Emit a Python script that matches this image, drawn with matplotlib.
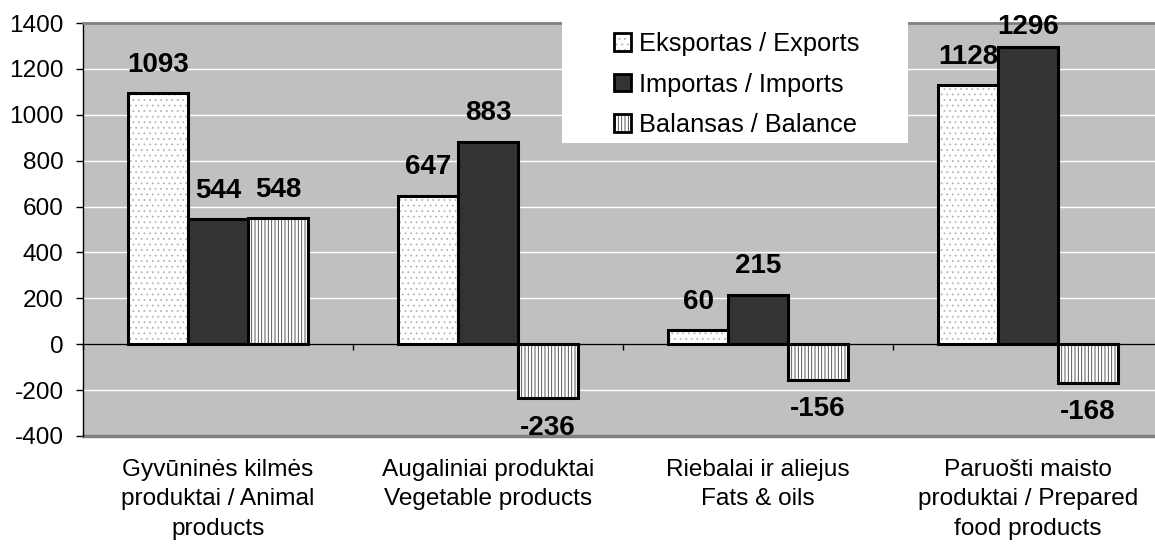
import numpy as np
import matplotlib
matplotlib.use('Agg')
import matplotlib.pyplot as plt
from matplotlib.patches import Patch, Rectangle

plt.rcParams['font.family'] = ['Liberation Sans', 'DejaVu Sans']
plt.rcParams['hatch.linewidth'] = 0.6
plt.rcParams['axes.unicode_minus'] = False

# data
categories = ['Gyvūninės kilmės\nproduktai / Animal\nproducts',
              'Augaliniai produktai\nVegetable products',
              'Riebalai ir aliejus\nFats & oils',
              'Paruošti maisto\nproduktai / Prepared\nfood products']
exports = [1093, 647, 60, 1128]
imports = [544, 883, 215, 1296]
balance = [548, -236, -156, -168]
series_names = ['Eksportas / Exports', 'Importas / Imports', 'Balansas / Balance']

fig = plt.figure(figsize=(11.55, 5.48), dpi=100)
# plot area runs a bit past the right edge, like the source image
ax = fig.add_axes([83 / 1155, 1 - 436 / 548, 1080 / 1155, 413 / 548])
ax.set_facecolor('#c0c0c0')

x = np.arange(len(categories))
w = 60 / 270
dots = '#b4b4b4'

# bars: hatch layer first, then a black outline on top
ax.bar(x - w, exports, w, color='white', edgecolor=dots, hatch='...', linewidth=0, zorder=2)
ax.bar(x - w, exports, w, fill=False, edgecolor='black', linewidth=2.2, zorder=3)
ax.bar(x, imports, w, color='#333333', edgecolor='black', linewidth=2.2, zorder=3)
ax.bar(x + w, balance, w, color='white', edgecolor='#404040', hatch='|||||', linewidth=0, zorder=2)
ax.bar(x + w, balance, w, fill=False, edgecolor='black', linewidth=2.2, zorder=3)

ax.set_xlim(-0.5, 3.5)
ax.set_ylim(-400, 1400)
ax.set_yticks(np.arange(-400, 1401, 200))
ax.yaxis.grid(True, color='white', linewidth=1)
ax.set_axisbelow(True)
ax.tick_params(axis='y', direction='out', length=5, width=1, color='black',
               labelsize=17.6, pad=9)

# category axis sits on zero
ax.spines['bottom'].set_position(('data', 0))
ax.spines['bottom'].set_color('black')
ax.spines['bottom'].set_linewidth(1)
ax.spines['bottom'].set_zorder(2.5)
ax.set_xticks(np.arange(-0.5, 3.6, 1))
ax.set_xticklabels([])
ax.tick_params(axis='x', direction='out', length=4.5, width=1, color='black')
ax.spines['left'].set_color('black')
ax.spines['left'].set_linewidth(1)
ax.spines['top'].set_color('#808080')
ax.spines['top'].set_linewidth(2)
ax.spines['right'].set_visible(False)
ax.axhline(-400, color='#808080', linewidth=2.5, clip_on=False, zorder=1)

for i, lab in enumerate(categories):
    ax.annotate(lab, (x[i], 0), xycoords=('data', 'axes fraction'),
                xytext=(0, -16.5), textcoords='offset points',
                ha='center', va='top', fontsize=17.6, linespacing=1.44)

# value labels
for off, vals in [(-w, exports), (0, imports), (w, balance)]:
    for i, v in enumerate(vals):
        ypos = v + 125 if v >= 0 else v - 128
        ypos = min(ypos, 1383)
        ax.text(x[i] + off, ypos, str(v), ha='center', va='center',
                fontsize=20, fontweight='bold', zorder=6, clip_on=False)

# legend on white box overlapping the top of the plot
fig.patches.append(Rectangle((562 / 1155, 1 - 143 / 548), 346 / 1155, 143 / 548,
                             transform=fig.transFigure, facecolor='white',
                             edgecolor='none', zorder=4))
handles = [(Patch(facecolor='white', edgecolor=dots, hatch='...', linewidth=0),
            Patch(fill=False, edgecolor='black', linewidth=2)),
           Patch(facecolor='#333333', edgecolor='black', linewidth=2),
           (Patch(facecolor='white', edgecolor='#404040', hatch='|||||', linewidth=0),
            Patch(fill=False, edgecolor='black', linewidth=2))]
leg = fig.legend(handles, series_names, loc='upper left',
                 bbox_to_anchor=(614 / 1155, 1 - 32 / 548), frameon=False,
                 fontsize=18.3, borderpad=0, borderaxespad=0,
                 handlelength=0.67, handleheight=0.67, handletextpad=0.3,
                 labelspacing=0.65)
leg.set_zorder(5)

fig.savefig('out.png', dpi=100)
